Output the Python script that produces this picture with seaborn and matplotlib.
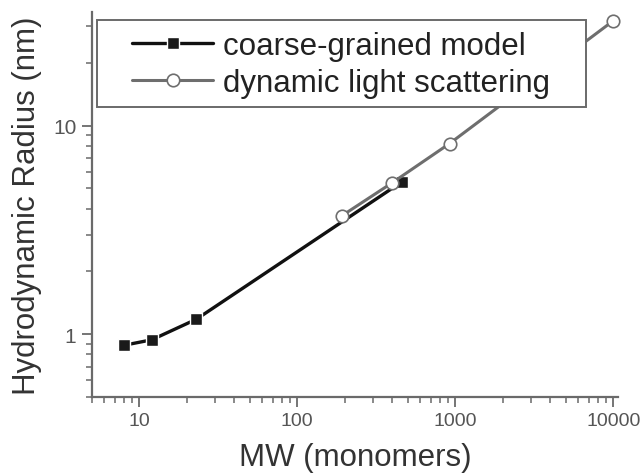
import numpy as np
import pandas as pd
import seaborn as sns
import matplotlib.pyplot as plt
from matplotlib.patches import Rectangle
from matplotlib.ticker import LogLocator, FuncFormatter, NullFormatter

# DATA
cg_mw = [8, 12, 23, 460]
cg_radius = [0.885, 0.94, 1.18, 5.38]

dls_mw = [192, 396, 920, 10000]
dls_radius = [3.7, 5.3, 8.2, 31.8]

x_ticks = [10, 100, 1000, 10000]
y_ticks = [1, 10]

cg_df = pd.DataFrame({"mw": cg_mw, "radius": cg_radius})
dls_df = pd.DataFrame({"mw": dls_mw, "radius": dls_radius})

# STYLE
sns.set_style("ticks")
plt.rcParams["font.family"] = ["Liberation Sans", "DejaVu Sans"]

axis_grey = "#6a6a6a"

fig = plt.figure(figsize=(6.43, 4.77), dpi=100)
ax = fig.add_axes([0.1426, 0.1656, 0.8185, 0.8071])

sns.lineplot(data=cg_df, x="mw", y="radius", ax=ax, color="#111111",
             linewidth=2.4, marker="s", markersize=8.5,
             markerfacecolor="#1a1a1a", markeredgecolor="white",
             markeredgewidth=1.0, label="coarse-grained model")
sns.lineplot(data=dls_df, x="mw", y="radius", ax=ax, color="#6e6e6e",
             linewidth=2.2, marker="o", markersize=9,
             markerfacecolor="white", markeredgecolor="#6e6e6e",
             markeredgewidth=1.2, label="dynamic light scattering",
             clip_on=False)

ax.set_xscale("log")
ax.set_yscale("log")
ax.set_xlim(5, 10700)
ax.set_ylim(0.5, 35)

fmt = FuncFormatter(lambda v, _: f"{v:g}")
ax.set_xticks(x_ticks)
ax.set_yticks(y_ticks)
ax.xaxis.set_major_formatter(fmt)
ax.yaxis.set_major_formatter(fmt)
ax.xaxis.set_minor_locator(LogLocator(base=10, subs=np.arange(2, 10)))
ax.yaxis.set_minor_locator(LogLocator(base=10, subs=np.arange(2, 10)))
ax.xaxis.set_minor_formatter(NullFormatter())
ax.yaxis.set_minor_formatter(NullFormatter())

ax.tick_params(which="major", length=7, width=1.3, color=axis_grey,
               labelsize=14, labelcolor="#555555", pad=4)
ax.tick_params(axis="y", which="major", labelsize=15)
ax.tick_params(which="minor", length=4, width=1.1, color=axis_grey)

sns.despine(ax=ax)
for side in ["left", "bottom"]:
    ax.spines[side].set_color(axis_grey)
    ax.spines[side].set_linewidth(1.6)

ax.set_xlabel("MW (monomers)", fontsize=22.5, color="#333333", labelpad=9)
ax.set_ylabel("Hydrodynamic Radius (nm)", fontsize=22.5, color="#333333",
              labelpad=8)

# legend box drawn separately so it can be wider than its contents
box = Rectangle((0.010, 0.753), 0.929, 0.226, transform=ax.transAxes,
                facecolor="white", edgecolor=axis_grey, linewidth=1.4,
                zorder=4)
ax.add_patch(box)

leg = ax.legend(loc="upper left", bbox_to_anchor=(0.0766, 0.950),
                fontsize=22.5, frameon=False, handlelength=2.6,
                handletextpad=0.3, borderpad=0, labelspacing=0.22,
                borderaxespad=0)
leg.set_zorder(5)
for t in leg.get_texts():
    t.set_color("#222222")

plt.savefig("out.png", dpi=100)
plt.close()
